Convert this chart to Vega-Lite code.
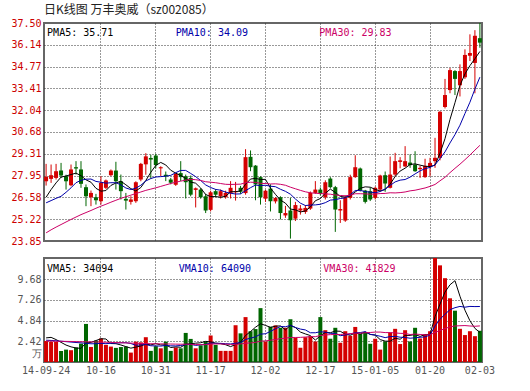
{
  "$schema": "https://vega.github.io/schema/vega-lite/v6.json",
  "padding": {"left": 5, "top": 3, "right": 5, "bottom": 5},
  "background": "white",
  "spacing": 10,
  "config": {
    "view": {"stroke": "#666666", "strokeWidth": 2},
    "axis": {
      "labelFont": "DejaVu Sans Mono",
      "labelFontSize": 10,
      "labelOverlap": false,
      "labelBound": false,
      "labelFlush": false,
      "grid": true,
      "gridColor": "#333333",
      "gridDash": [1, 2],
      "gridWidth": 1,
      "ticks": false,
      "domain": false,
      "title": null
    }
  },
  "datasets": {
    "k": [
      {"d":"2014-09-24","o":27.59,"h":28.68,"l":27.32,"c":27.87,"m5":26.59,"m10":26.24,"m30":24.36,"v":2.45,"v5":2.82,"v10":2.55,"v30":2.45},
      {"d":"2014-09-25","o":27.74,"h":28.64,"l":27.49,"c":27.97,"m5":27.07,"m10":26.38,"m30":24.55,"v":2.35,"v5":2.88,"v10":2.52,"v30":2.44},
      {"d":"2014-09-26","o":27.80,"h":28.68,"l":27.70,"c":28.22,"m5":27.49,"m10":26.52,"m30":24.72,"v":2.35,"v5":2.62,"v10":2.48,"v30":2.43},
      {"d":"2014-09-29","o":28.26,"h":28.74,"l":27.80,"c":27.95,"m5":27.85,"m10":26.65,"m30":24.88,"v":1.30,"v5":2.30,"v10":2.43,"v30":2.42},
      {"d":"2014-09-30","o":27.91,"h":28.00,"l":27.07,"c":27.59,"m5":27.92,"m10":26.90,"m30":25.04,"v":1.45,"v5":1.98,"v10":2.38,"v30":2.41},
      {"d":"2014-10-08","o":27.34,"h":28.64,"l":27.28,"c":28.33,"m5":28.01,"m10":27.18,"m30":25.20,"v":1.38,"v5":1.77,"v10":2.33,"v30":2.40},
      {"d":"2014-10-09","o":28.47,"h":28.85,"l":28.01,"c":28.39,"m5":28.10,"m10":27.50,"m30":25.35,"v":1.70,"v5":1.64,"v10":2.28,"v30":2.38},
      {"d":"2014-10-10","o":28.33,"h":28.85,"l":27.18,"c":27.43,"m5":27.94,"m10":27.65,"m30":25.50,"v":2.15,"v5":1.60,"v10":2.24,"v30":2.37},
      {"d":"2014-10-13","o":27.22,"h":27.39,"l":26.03,"c":26.65,"m5":27.68,"m10":27.72,"m30":25.63,"v":4.45,"v5":2.23,"v10":2.19,"v30":2.36},
      {"d":"2014-10-14","o":26.59,"h":27.01,"l":26.03,"c":26.86,"m5":27.53,"m10":27.73,"m30":25.76,"v":1.76,"v5":2.29,"v10":2.13,"v30":2.35},
      {"d":"2014-10-15","o":26.59,"h":26.80,"l":26.13,"c":26.40,"m5":27.15,"m10":27.58,"m30":25.90,"v":2.50,"v5":2.51,"v10":2.14,"v30":2.34},
      {"d":"2014-10-16","o":26.34,"h":27.91,"l":26.13,"c":27.49,"m5":26.97,"m10":27.53,"m30":26.03,"v":2.75,"v5":2.72,"v10":2.18,"v30":2.32},
      {"d":"2014-10-17","o":27.18,"h":27.70,"l":27.10,"c":27.64,"m5":27.01,"m10":27.47,"m30":26.15,"v":2.00,"v5":2.69,"v10":2.14,"v30":2.31},
      {"d":"2014-10-20","o":27.97,"h":28.33,"l":27.91,"c":28.26,"m5":27.33,"m10":27.50,"m30":26.28,"v":1.80,"v5":2.16,"v10":2.19,"v30":2.29},
      {"d":"2014-10-21","o":28.26,"h":28.81,"l":27.07,"c":27.59,"m5":27.48,"m10":27.50,"m30":26.40,"v":1.65,"v5":2.14,"v10":2.21,"v30":2.27},
      {"d":"2014-10-22","o":27.59,"h":28.01,"l":26.45,"c":26.97,"m5":27.59,"m10":27.37,"m30":26.52,"v":1.75,"v5":1.99,"v10":2.25,"v30":2.25},
      {"d":"2014-10-23","o":26.49,"h":26.86,"l":25.82,"c":26.38,"m5":27.37,"m10":27.17,"m30":26.62,"v":1.80,"v5":1.80,"v10":2.26,"v30":2.23},
      {"d":"2014-10-24","o":26.30,"h":26.65,"l":26.13,"c":26.45,"m5":27.13,"m10":27.07,"m30":26.72,"v":1.10,"v5":1.62,"v10":2.16,"v30":2.21},
      {"d":"2014-10-27","o":26.34,"h":27.59,"l":26.24,"c":27.53,"m5":26.98,"m10":27.16,"m30":26.82,"v":2.38,"v5":1.74,"v10":1.95,"v30":2.19},
      {"d":"2014-10-28","o":27.70,"h":28.74,"l":27.59,"c":28.68,"m5":27.20,"m10":27.34,"m30":26.92,"v":2.30,"v5":1.87,"v10":2.00,"v30":2.17},
      {"d":"2014-10-29","o":28.65,"h":29.35,"l":28.00,"c":29.15,"m5":27.64,"m10":27.61,"m30":27.02,"v":2.90,"v5":2.10,"v10":2.04,"v30":2.15},
      {"d":"2014-10-30","o":29.05,"h":29.25,"l":27.75,"c":28.95,"m5":28.15,"m10":27.76,"m30":27.10,"v":1.30,"v5":2.00,"v10":1.90,"v30":2.14},
      {"d":"2014-10-31","o":29.20,"h":29.30,"l":28.40,"c":28.60,"m5":28.58,"m10":27.86,"m30":27.18,"v":1.85,"v5":2.15,"v10":1.88,"v30":2.13},
      {"d":"2014-11-03","o":28.40,"h":28.53,"l":27.91,"c":28.47,"m5":28.77,"m10":27.88,"m30":27.27,"v":1.60,"v5":1.99,"v10":1.86,"v30":2.12},
      {"d":"2014-11-04","o":28.00,"h":28.20,"l":27.60,"c":27.90,"m5":28.61,"m10":27.91,"m30":27.36,"v":2.38,"v5":2.01,"v10":1.94,"v30":2.11},
      {"d":"2014-11-05","o":27.70,"h":27.80,"l":27.40,"c":27.50,"m5":28.28,"m10":27.96,"m30":27.45,"v":1.30,"v5":1.69,"v10":1.89,"v30":2.10},
      {"d":"2014-11-06","o":27.37,"h":28.10,"l":27.30,"c":28.05,"m5":28.10,"m10":28.13,"m30":27.53,"v":1.70,"v5":1.77,"v10":1.88,"v30":2.09},
      {"d":"2014-11-07","o":28.10,"h":28.85,"l":27.60,"c":27.85,"m5":27.95,"m10":28.27,"m30":27.60,"v":1.60,"v5":1.72,"v10":1.93,"v30":2.08},
      {"d":"2014-11-10","o":27.91,"h":28.01,"l":26.51,"c":27.53,"m5":27.77,"m10":28.27,"m30":27.66,"v":3.40,"v5":2.08,"v10":2.03,"v30":2.08},
      {"d":"2014-11-11","o":27.80,"h":27.95,"l":26.65,"c":26.75,"m5":27.54,"m10":28.08,"m30":27.71,"v":2.70,"v5":2.14,"v10":2.07,"v30":2.07},
      {"d":"2014-11-12","o":27.05,"h":27.20,"l":25.95,"c":27.15,"m5":27.47,"m10":27.88,"m30":27.69,"v":1.60,"v5":2.20,"v10":1.94,"v30":2.04},
      {"d":"2014-11-13","o":27.07,"h":27.15,"l":26.50,"c":26.59,"m5":27.17,"m10":27.64,"m30":27.64,"v":1.95,"v5":2.25,"v10":2.01,"v30":2.03},
      {"d":"2014-11-14","o":26.65,"h":26.80,"l":25.60,"c":25.76,"m5":26.76,"m10":27.36,"m30":27.56,"v":2.40,"v5":2.41,"v10":2.06,"v30":2.03},
      {"d":"2014-11-17","o":25.80,"h":27.00,"l":25.70,"c":26.90,"m5":26.63,"m10":27.20,"m30":27.53,"v":3.10,"v5":2.35,"v10":2.21,"v30":2.09},
      {"d":"2014-11-18","o":26.97,"h":27.10,"l":26.60,"c":26.75,"m5":26.63,"m10":27.08,"m30":27.50,"v":2.00,"v5":2.21,"v10":2.18,"v30":2.11},
      {"d":"2014-11-19","o":26.65,"h":27.07,"l":26.51,"c":26.97,"m5":26.59,"m10":27.03,"m30":27.45,"v":1.30,"v5":2.15,"v10":2.18,"v30":2.11},
      {"d":"2014-11-20","o":26.59,"h":27.00,"l":26.50,"c":26.86,"m5":26.65,"m10":26.91,"m30":27.40,"v":1.30,"v5":2.02,"v10":2.14,"v30":2.09},
      {"d":"2014-11-21","o":26.86,"h":27.60,"l":26.51,"c":27.18,"m5":26.93,"m10":26.84,"m30":27.39,"v":1.30,"v5":1.80,"v10":2.11,"v30":2.06},
      {"d":"2014-11-24","o":26.90,"h":27.55,"l":26.38,"c":26.95,"m5":26.94,"m10":26.79,"m30":27.40,"v":4.30,"v5":2.04,"v10":2.20,"v30":2.06},
      {"d":"2014-11-25","o":27.18,"h":27.30,"l":26.80,"c":26.93,"m5":26.98,"m10":26.80,"m30":27.41,"v":3.35,"v5":2.31,"v10":2.26,"v30":2.11},
      {"d":"2014-11-26","o":26.85,"h":29.60,"l":26.75,"c":29.10,"m5":27.40,"m10":27.00,"m30":27.50,"v":5.25,"v5":3.10,"v10":2.63,"v30":2.20},
      {"d":"2014-11-27","o":29.12,"h":29.52,"l":28.22,"c":28.47,"m5":27.73,"m10":27.19,"m30":27.53,"v":3.60,"v5":3.56,"v10":2.79,"v30":2.23},
      {"d":"2014-11-28","o":28.57,"h":28.60,"l":26.40,"c":27.39,"m5":27.77,"m10":27.35,"m30":27.52,"v":3.85,"v5":4.07,"v10":2.94,"v30":2.29},
      {"d":"2014-12-01","o":27.85,"h":27.90,"l":26.13,"c":26.59,"m5":27.70,"m10":27.32,"m30":27.46,"v":6.30,"v5":4.47,"v10":3.26,"v30":2.44},
      {"d":"2014-12-02","o":26.50,"h":27.05,"l":26.30,"c":27.00,"m5":27.71,"m10":27.34,"m30":27.45,"v":2.40,"v5":4.28,"v10":3.30,"v30":2.47},
      {"d":"2014-12-03","o":27.13,"h":27.40,"l":25.70,"c":26.34,"m5":27.16,"m10":27.28,"m30":27.42,"v":4.12,"v5":4.05,"v10":3.58,"v30":2.55},
      {"d":"2014-12-04","o":26.33,"h":26.60,"l":26.20,"c":26.54,"m5":26.77,"m10":27.25,"m30":27.43,"v":4.28,"v5":4.19,"v10":3.88,"v30":2.63},
      {"d":"2014-12-05","o":26.59,"h":26.65,"l":25.20,"c":25.60,"m5":26.41,"m10":27.09,"m30":27.40,"v":4.00,"v5":4.22,"v10":4.15,"v30":2.73},
      {"d":"2014-12-08","o":25.45,"h":26.05,"l":25.30,"c":25.60,"m5":26.22,"m10":26.96,"m30":27.34,"v":4.00,"v5":3.76,"v10":4.12,"v30":2.78},
      {"d":"2014-12-09","o":25.76,"h":26.55,"l":24.00,"c":25.15,"m5":25.85,"m10":26.78,"m30":27.22,"v":5.00,"v5":4.28,"v10":4.28,"v30":2.87},
      {"d":"2014-12-10","o":25.25,"h":26.30,"l":25.10,"c":26.10,"m5":25.80,"m10":26.48,"m30":27.12,"v":2.85,"v5":4.03,"v10":4.04,"v30":2.87},
      {"d":"2014-12-11","o":25.76,"h":26.10,"l":25.50,"c":25.88,"m5":25.67,"m10":26.22,"m30":27.02,"v":1.67,"v5":3.50,"v10":3.85,"v30":2.88},
      {"d":"2014-12-12","o":25.67,"h":26.10,"l":25.55,"c":25.92,"m5":25.73,"m10":26.07,"m30":26.93,"v":2.90,"v5":3.28,"v10":3.75,"v30":2.92},
      {"d":"2014-12-15","o":25.88,"h":26.95,"l":25.80,"c":26.86,"m5":25.98,"m10":26.10,"m30":26.87,"v":3.02,"v5":3.09,"v10":3.42,"v30":2.96},
      {"d":"2014-12-16","o":26.86,"h":27.60,"l":26.80,"c":27.07,"m5":26.37,"m10":26.11,"m30":26.84,"v":2.40,"v5":2.57,"v10":3.42,"v30":2.96},
      {"d":"2014-12-17","o":27.07,"h":27.20,"l":26.70,"c":26.80,"m5":26.51,"m10":26.15,"m30":26.82,"v":5.25,"v5":3.05,"v10":3.54,"v30":3.10},
      {"d":"2014-12-18","o":26.59,"h":27.65,"l":26.45,"c":27.53,"m5":26.84,"m10":26.25,"m30":26.80,"v":3.72,"v5":3.46,"v10":3.48,"v30":3.16},
      {"d":"2014-12-19","o":27.76,"h":27.85,"l":27.15,"c":27.22,"m5":27.10,"m10":26.41,"m30":26.78,"v":2.72,"v5":3.42,"v10":3.35,"v30":3.20},
      {"d":"2014-12-22","o":27.22,"h":27.30,"l":24.42,"c":25.82,"m5":26.89,"m10":26.44,"m30":26.73,"v":4.00,"v5":3.62,"v10":3.35,"v30":3.22},
      {"d":"2014-12-23","o":25.76,"h":26.40,"l":24.98,"c":25.85,"m5":26.64,"m10":26.51,"m30":26.70,"v":2.25,"v5":3.59,"v10":3.08,"v30":3.21},
      {"d":"2014-12-24","o":25.13,"h":26.70,"l":25.05,"c":26.59,"m5":26.60,"m10":26.55,"m30":26.68,"v":3.60,"v5":3.26,"v10":3.15,"v30":3.27},
      {"d":"2014-12-25","o":26.55,"h":28.00,"l":26.45,"c":27.85,"m5":26.67,"m10":26.75,"m30":26.72,"v":3.05,"v5":3.12,"v10":3.29,"v30":3.31},
      {"d":"2014-12-26","o":27.85,"h":29.22,"l":27.80,"c":28.47,"m5":26.92,"m10":27.01,"m30":26.81,"v":4.10,"v5":3.40,"v10":3.41,"v30":3.37},
      {"d":"2014-12-29","o":28.39,"h":28.45,"l":26.95,"c":27.01,"m5":27.15,"m10":27.02,"m30":26.81,"v":3.30,"v5":3.26,"v10":3.44,"v30":3.37},
      {"d":"2014-12-30","o":27.01,"h":27.05,"l":26.20,"c":26.30,"m5":27.24,"m10":26.94,"m30":26.80,"v":3.50,"v5":3.51,"v10":3.55,"v30":3.42},
      {"d":"2014-12-31","o":26.97,"h":27.20,"l":26.35,"c":26.45,"m5":27.22,"m10":26.91,"m30":26.78,"v":2.13,"v5":3.22,"v10":3.24,"v30":3.45},
      {"d":"2015-01-05","o":26.55,"h":27.25,"l":26.45,"c":27.18,"m5":27.08,"m10":26.87,"m30":26.79,"v":2.72,"v5":3.15,"v10":3.14,"v30":3.50},
      {"d":"2015-01-06","o":27.07,"h":28.00,"l":26.95,"c":27.95,"m5":26.98,"m10":26.95,"m30":26.82,"v":1.45,"v5":2.62,"v10":3.01,"v30":3.50},
      {"d":"2015-01-07","o":27.97,"h":28.20,"l":26.93,"c":27.45,"m5":27.07,"m10":27.11,"m30":26.83,"v":2.40,"v5":2.44,"v10":2.85,"v30":3.44},
      {"d":"2015-01-08","o":27.18,"h":29.14,"l":27.14,"c":28.01,"m5":27.41,"m10":27.33,"m30":26.87,"v":3.45,"v5":2.43,"v10":2.97,"v30":3.44},
      {"d":"2015-01-09","o":28.01,"h":29.37,"l":27.90,"c":28.85,"m5":27.89,"m10":27.55,"m30":26.86,"v":3.88,"v5":2.78,"v10":3.00,"v30":3.40},
      {"d":"2015-01-12","o":28.80,"h":29.10,"l":28.40,"c":28.90,"m5":28.23,"m10":27.66,"m30":26.88,"v":2.10,"v5":2.66,"v10":2.90,"v30":3.35},
      {"d":"2015-01-13","o":28.52,"h":29.79,"l":28.47,"c":28.85,"m5":28.41,"m10":27.70,"m30":26.92,"v":3.72,"v5":3.11,"v10":2.87,"v30":3.34},
      {"d":"2015-01-14","o":28.76,"h":29.27,"l":28.43,"c":28.60,"m5":28.64,"m10":27.85,"m30":26.99,"v":2.40,"v5":3.11,"v10":2.78,"v30":3.21},
      {"d":"2015-01-15","o":28.64,"h":29.47,"l":28.18,"c":28.22,"m5":28.68,"m10":28.05,"m30":27.03,"v":4.00,"v5":3.22,"v10":2.83,"v30":3.27},
      {"d":"2015-01-16","o":28.35,"h":28.55,"l":27.80,"c":28.43,"m5":28.60,"m10":28.24,"m30":27.10,"v":2.75,"v5":2.99,"v10":2.89,"v30":3.22},
      {"d":"2015-01-19","o":27.85,"h":29.00,"l":27.80,"c":28.55,"m5":28.53,"m10":28.38,"m30":27.17,"v":3.20,"v5":3.21,"v10":2.94,"v30":3.18},
      {"d":"2015-01-20","o":28.50,"h":29.06,"l":27.90,"c":28.74,"m5":28.51,"m10":28.46,"m30":27.27,"v":3.60,"v5":3.19,"v10":3.15,"v30":3.17},
      {"d":"2015-01-21","o":28.85,"h":30.31,"l":28.43,"c":29.06,"m5":28.60,"m10":28.62,"m30":27.39,"v":13.00,"v5":5.31,"v10":4.21,"v30":3.47},
      {"d":"2015-01-22","o":29.06,"h":32.00,"l":28.90,"c":31.94,"m5":29.34,"m10":29.01,"m30":27.62,"v":11.30,"v5":6.77,"v10":5.00,"v30":3.68},
      {"d":"2015-01-23","o":32.24,"h":34.00,"l":32.15,"c":32.99,"m5":30.26,"m10":29.43,"m30":27.84,"v":9.80,"v5":8.18,"v10":5.59,"v30":3.91},
      {"d":"2015-01-26","o":33.30,"h":34.68,"l":33.10,"c":34.55,"m5":31.46,"m10":29.99,"m30":28.13,"v":7.45,"v5":9.03,"v10":6.12,"v30":4.11},
      {"d":"2015-01-27","o":34.49,"h":34.55,"l":32.99,"c":34.00,"m5":32.51,"m10":30.51,"m30":28.40,"v":6.00,"v5":9.51,"v10":6.35,"v30":4.21},
      {"d":"2015-01-28","o":33.60,"h":34.91,"l":32.90,"c":34.49,"m5":33.59,"m10":31.10,"m30":28.66,"v":3.88,"v5":7.69,"v10":6.50,"v30":4.24},
      {"d":"2015-01-29","o":34.10,"h":35.85,"l":34.00,"c":35.50,"m5":34.31,"m10":31.83,"m30":28.94,"v":3.15,"v5":6.06,"v10":6.41,"v30":4.26},
      {"d":"2015-01-30","o":35.45,"h":36.79,"l":35.12,"c":35.62,"m5":34.83,"m10":32.54,"m30":29.23,"v":3.60,"v5":4.82,"v10":6.50,"v30":4.21},
      {"d":"2015-02-02","o":35.00,"h":37.05,"l":33.10,"c":36.70,"m5":35.26,"m10":33.36,"m30":29.54,"v":3.02,"v5":3.93,"v10":6.48,"v30":4.18},
      {"d":"2015-02-03","o":36.55,"h":37.50,"l":35.95,"c":36.27,"m5":35.72,"m10":34.11,"m30":29.84,"v":3.65,"v5":3.46,"v10":6.49,"v30":4.22}
    ]
  },
  "vconcat": [
    {
      "title": {"text": "日K线图 万丰奥威（sz002085）", "anchor": "start", "frame": "group", "font": "Noto Sans CJK SC", "fontSize": 12, "fontWeight": "normal", "color": "#222222", "offset": 1},
      "width": 438,
      "height": 218,
      "data": {"name": "k"},
      "layer": [
        {
          "mark": {"type": "rule", "strokeWidth": 1},
          "encoding": {
            "x": {"field": "d", "type": "ordinal", "scale": {"paddingInner": 0.2, "paddingOuter": 0.02},
              "axis": {"labels": false, "values": ["2014-10-16","2014-10-31","2014-11-17","2014-12-02","2014-12-17","2015-01-05","2015-01-20"], "minExtent": 0, "maxExtent": 0}},
            "y": {"field": "l", "type": "quantitative", "scale": {"domain": [23.85, 37.5], "zero": false, "nice": false},
              "axis": {"values": [23.85, 25.22, 26.58, 27.95, 29.31, 30.68, 32.04, 33.41, 34.77, 36.14, 37.5], "tickCount": 40, "format": ".2f", "labelColor": "#cc0000", "labelPadding": 3, "minExtent": 38, "maxExtent": 38, "labelFlush": false, "labelOverlap": false,
                "gridOpacity": {"condition": {"test": "datum.value < 24 || datum.value > 37", "value": 0}, "value": 1}}},
            "y2": {"field": "h"},
            "color": {"condition": {"test": "datum.c >= datum.o", "value": "#d40000"}, "value": "#006600"}
          }
        },
        {
          "mark": {"type": "bar"},
          "encoding": {
            "x": {"field": "d", "type": "ordinal"},
            "y": {"field": "o", "type": "quantitative"},
            "y2": {"field": "c"},
            "color": {"condition": {"test": "datum.c >= datum.o", "value": "#d40000"}, "value": "#006600"}
          }
        },
        {"mark": {"type": "line", "color": "#000000", "strokeWidth": 1}, "encoding": {"x": {"field": "d", "type": "ordinal"}, "y": {"field": "m5", "type": "quantitative"}}},
        {"mark": {"type": "line", "color": "#0000aa", "strokeWidth": 1}, "encoding": {"x": {"field": "d", "type": "ordinal"}, "y": {"field": "m10", "type": "quantitative"}}},
        {"mark": {"type": "line", "color": "#cc0066", "strokeWidth": 1}, "encoding": {"x": {"field": "d", "type": "ordinal"}, "y": {"field": "m30", "type": "quantitative"}}},
        {"data": {"values": [{}]}, "mark": {"type": "text", "align": "left", "baseline": "middle", "font": "DejaVu Sans Mono", "fontSize": 10, "color": "#000000", "dx": 1},
          "encoding": {"x": {"datum": "2014-09-24", "type": "ordinal"}, "y": {"datum": 36.85, "type": "quantitative"}, "text": {"value": "PMA5: 35.71"}}},
        {"data": {"values": [{}]}, "mark": {"type": "text", "align": "left", "baseline": "middle", "font": "DejaVu Sans Mono", "fontSize": 10, "color": "#0000aa", "dx": 0},
          "encoding": {"x": {"datum": "2014-11-06", "type": "ordinal"}, "y": {"datum": 36.85, "type": "quantitative"}, "text": {"value": "PMA10: 34.09"}}},
        {"data": {"values": [{}]}, "mark": {"type": "text", "align": "left", "baseline": "middle", "font": "DejaVu Sans Mono", "fontSize": 10, "color": "#cc0066", "dx": -1},
          "encoding": {"x": {"datum": "2014-12-17", "type": "ordinal"}, "y": {"datum": 36.85, "type": "quantitative"}, "text": {"value": "PMA30: 29.83"}}}
      ]
    },
    {
      "width": 438,
      "height": 104,
      "data": {"name": "k"},
      "layer": [
        {
          "mark": {"type": "bar", "clip": true},
          "encoding": {
            "x": {"field": "d", "type": "ordinal", "scale": {"paddingInner": 0.2, "paddingOuter": 0.02},
              "axis": {"values": ["2014-09-24","2014-10-16","2014-10-31","2014-11-17","2014-12-02","2014-12-17","2015-01-05","2015-01-20","2015-02-03"],
                "labelExpr": "datum.value == '2014-09-24' || datum.value == '2015-01-05' ? slice(datum.value, 2) : slice(datum.value, 5)",
                "labelColor": "#555555", "labelPadding": 3, "labelAngle": 0, "labelOverlap": false, "labelBound": false,
                "gridOpacity": {"condition": {"test": "datum.value == '2014-09-24' || datum.value == '2015-02-03'", "value": 0}, "value": 1}}},
            "y": {"field": "v", "type": "quantitative", "scale": {"domain": [0, 12.16], "nice": false, "zero": true},
              "axis": {"values": [0.94, 2.42, 4.84, 7.26, 9.68], "tickCount": 40, "labelExpr": "datum.value < 1 ? '万' : format(datum.value, '.2f')", "labelColor": "#555555", "labelPadding": 3, "minExtent": 38, "maxExtent": 38, "labelFlush": false, "labelOverlap": false,
                "gridOpacity": {"condition": {"test": "datum.value < 1", "value": 0}, "value": 1}}},
            "color": {"condition": {"test": "datum.c >= datum.o", "value": "#d40000"}, "value": "#006600"}
          }
        },
        {"mark": {"type": "line", "color": "#000000", "strokeWidth": 1}, "encoding": {"x": {"field": "d", "type": "ordinal"}, "y": {"field": "v5", "type": "quantitative"}}},
        {"mark": {"type": "line", "color": "#0000aa", "strokeWidth": 1}, "encoding": {"x": {"field": "d", "type": "ordinal"}, "y": {"field": "v10", "type": "quantitative"}}},
        {"mark": {"type": "line", "color": "#cc0066", "strokeWidth": 1}, "encoding": {"x": {"field": "d", "type": "ordinal"}, "y": {"field": "v30", "type": "quantitative"}}},
        {"data": {"values": [{}]}, "mark": {"type": "text", "align": "left", "baseline": "middle", "font": "DejaVu Sans Mono", "fontSize": 10, "color": "#000000", "dx": 1},
          "encoding": {"x": {"datum": "2014-09-24", "type": "ordinal"}, "y": {"datum": 10.9, "type": "quantitative"}, "text": {"value": "VMA5: 34094"}}},
        {"data": {"values": [{}]}, "mark": {"type": "text", "align": "left", "baseline": "middle", "font": "DejaVu Sans Mono", "fontSize": 10, "color": "#0000aa", "dx": 3},
          "encoding": {"x": {"datum": "2014-11-06", "type": "ordinal"}, "y": {"datum": 10.9, "type": "quantitative"}, "text": {"value": "VMA10: 64090"}}},
        {"data": {"values": [{}]}, "mark": {"type": "text", "align": "left", "baseline": "middle", "font": "DejaVu Sans Mono", "fontSize": 10, "color": "#cc0066", "dx": 3},
          "encoding": {"x": {"datum": "2014-12-17", "type": "ordinal"}, "y": {"datum": 10.9, "type": "quantitative"}, "text": {"value": "VMA30: 41829"}}}
      ]
    }
  ]
}
